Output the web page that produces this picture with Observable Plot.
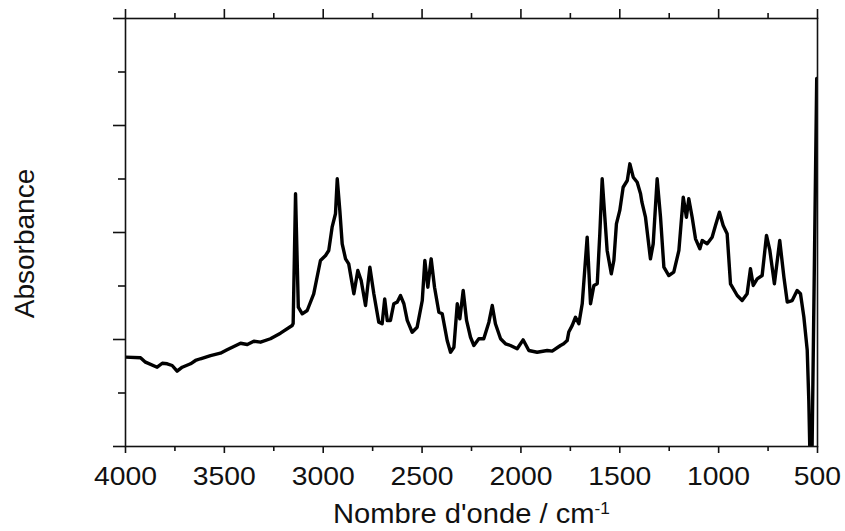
<!DOCTYPE html>
<html>
<head>
<meta charset="utf-8">
<script src="https://cdn.jsdelivr.net/npm/d3@7"></script>
<script src="https://cdn.jsdelivr.net/npm/@observablehq/plot@0.6"></script>
<style>
  html, body { margin: 0; padding: 0; background: #fff; }
</style>
</head>
<body>
<div id="chart"></div>
<script>
const wavenumber = [
  4000, 3924, 3899, 3840, 3814, 3789, 3764, 3739, 3713, 3671, 3646, 3621, 3570, 3520, 3486,
  3418, 3384, 3351, 3317, 3267, 3216, 3157, 3152, 3140, 3126, 3106, 3081, 3048, 3014, 2988,
  2972, 2955, 2938, 2929, 2916, 2904, 2887, 2871, 2845, 2825, 2808, 2786, 2764, 2744, 2719,
  2702, 2689, 2676, 2660, 2643, 2626, 2609, 2592, 2575, 2550, 2525, 2499, 2486, 2471, 2454,
  2437, 2415, 2398, 2373, 2356, 2339, 2322, 2309, 2292, 2275, 2255, 2238, 2213, 2188, 2162,
  2145, 2129, 2103, 2078, 2053, 2019, 1989, 1960, 1918, 1867, 1842, 1800, 1784, 1766, 1758,
  1741, 1724, 1707, 1690, 1665, 1648, 1631, 1614, 1601, 1589, 1564, 1543, 1530, 1517, 1500,
  1483, 1462, 1449, 1432, 1412, 1395, 1388, 1370, 1345, 1331, 1311, 1294, 1277, 1252, 1227,
  1201, 1179, 1163, 1151, 1134, 1117, 1095, 1083, 1058, 1033, 1016, 996, 977, 957, 940,
  906, 881, 856, 839, 825, 805, 780, 758, 741, 718, 691, 670, 653, 628, 603,
  586, 569, 552, 544, 538, 528, 504
];
const absorbance = [
  0.835, 0.829, 0.788, 0.741, 0.778, 0.773, 0.757, 0.704, 0.741, 0.773, 0.804, 0.820, 0.850, 0.872, 0.904,
  0.965, 0.953, 0.984, 0.975, 1.007, 1.059, 1.131, 1.150, 2.362, 1.302, 1.240, 1.271, 1.427, 1.738, 1.785,
  1.832, 2.050, 2.175, 2.502, 2.206, 1.894, 1.754, 1.707, 1.427, 1.645, 1.551, 1.318, 1.676, 1.427, 1.162,
  1.147, 1.380, 1.178, 1.178, 1.334, 1.349, 1.411, 1.334, 1.178, 1.068, 1.115, 1.364, 1.738, 1.489, 1.754,
  1.489, 1.255, 1.240, 0.991, 0.881, 0.928, 1.334, 1.193, 1.458, 1.178, 1.021, 0.944, 1.007, 1.007, 1.162,
  1.318, 1.147, 1.007, 0.960, 0.944, 0.913, 0.997, 0.897, 0.881, 0.897, 0.891, 0.944, 0.960, 0.990, 1.070,
  1.130, 1.208, 1.147, 1.334, 1.956, 1.334, 1.505, 1.521, 1.988, 2.502, 1.832, 1.614, 1.738, 2.081, 2.206,
  2.423, 2.486, 2.642, 2.517, 2.470, 2.362, 2.283, 2.143, 1.754, 1.894, 2.502, 2.143, 1.676, 1.598, 1.629,
  1.832, 2.330, 2.143, 2.315, 2.143, 1.941, 1.848, 1.925, 1.894, 1.956, 2.065, 2.190, 2.065, 1.988, 1.520,
  1.411, 1.364, 1.427, 1.661, 1.505, 1.567, 1.598, 1.972, 1.832, 1.520, 1.925, 1.584, 1.350, 1.364, 1.458,
  1.427, 1.210, 0.900, 0.430, -0.100, -0.100, 3.440
];
const majorX = [4000, 3500, 3000, 2500, 2000, 1500, 1000, 500];
const minorX = [3750, 3250, 2750, 2250, 1750, 1250, 750];
const xTickLabels = ["4000", "3500", "3000", "2500", "2000", "1500", "1000", "500"];
const majorY = [0, 1, 2, 3, 4];
const minorY = [0.5, 1.5, 2.5, 3.5];
const xTitle = "Nombre d'onde / cm";
const xTitleSup = "-1";
const yTitle = "Absorbance";

const data = wavenumber.map((w, i) => ({wn: w, a: absorbance[i]}));
const blank = () => "";

const chart = Plot.plot({
  width: 845,
  height: 531,
  marginLeft: 125,
  marginRight: 28,
  marginTop: 18,
  marginBottom: 85,
  style: {fontFamily: "'Liberation Sans', Arial, sans-serif", background: "#fff", color: "#111"},
  x: {domain: [4000, 500]},
  y: {domain: [0, 4]},
  marks: [
    Plot.line(data, {x: "wn", y: "a", stroke: "#000", strokeWidth: 3.4, strokeLinejoin: "round", clip: true}),
    Plot.frame({stroke: "#111", strokeWidth: 1.6}),
    Plot.axisX(majorX, {anchor: "bottom", tickSize: 7, tickPadding: 13, fontSize: 26, strokeWidth: 1.6,
      tickFormat: d => xTickLabels[majorX.indexOf(d)], label: null, fill: "#111"}),
    Plot.axisX(minorX, {anchor: "bottom", tickSize: 5, strokeWidth: 1.6, tickFormat: blank, label: null}),
    Plot.axisX(majorX, {anchor: "top", tickSize: 10, strokeWidth: 1.6, tickFormat: blank, label: null}),
    Plot.axisX(minorX, {anchor: "top", tickSize: 6, strokeWidth: 1.6, tickFormat: blank, label: null}),
    Plot.axisY(majorY, {anchor: "left", tickSize: 12, strokeWidth: 1.6, tickFormat: blank, label: null}),
    Plot.axisY(minorY, {anchor: "left", tickSize: 7, strokeWidth: 1.6, tickFormat: blank, label: null}),
    Plot.text([xTitle], {frameAnchor: "bottom", dy: 76, fontSize: 27, fill: "#111", text: d => d}),
    Plot.text([yTitle], {frameAnchor: "left", textAnchor: "middle", dx: -100, dy: 11, rotate: -90, fontSize: 28, fill: "#111", text: d => d})
  ]
});

document.getElementById("chart").appendChild(chart);

// widen text horizontally, as in the reference
function stretch(node, s) {
  const svgBox = chart.getBoundingClientRect();
  const b = node.getBoundingClientRect();
  const cx = b.left + b.width / 2 - svgBox.left;
  const g = document.createElementNS("http://www.w3.org/2000/svg", "g");
  g.setAttribute("transform", `translate(${cx},0) scale(${s},1) translate(${-cx},0)`);
  node.parentNode.insertBefore(g, node);
  g.appendChild(node);
}

const tickTexts = [];
let titleNode = null;
d3.select(chart).selectAll("text").each(function() {
  const t = this.textContent;
  if (t === xTitle) titleNode = this;
  else if (xTickLabels.includes(t)) tickTexts.push(this);
});
if (titleNode) {
  d3.select(titleNode).append("tspan")
    .attr("dy", "-0.55em")
    .attr("font-size", 16)
    .text(xTitleSup);
  stretch(titleNode, 1.08);
}
tickTexts.forEach(n => stretch(n, 1.09));
</script>
</body>
</html>
